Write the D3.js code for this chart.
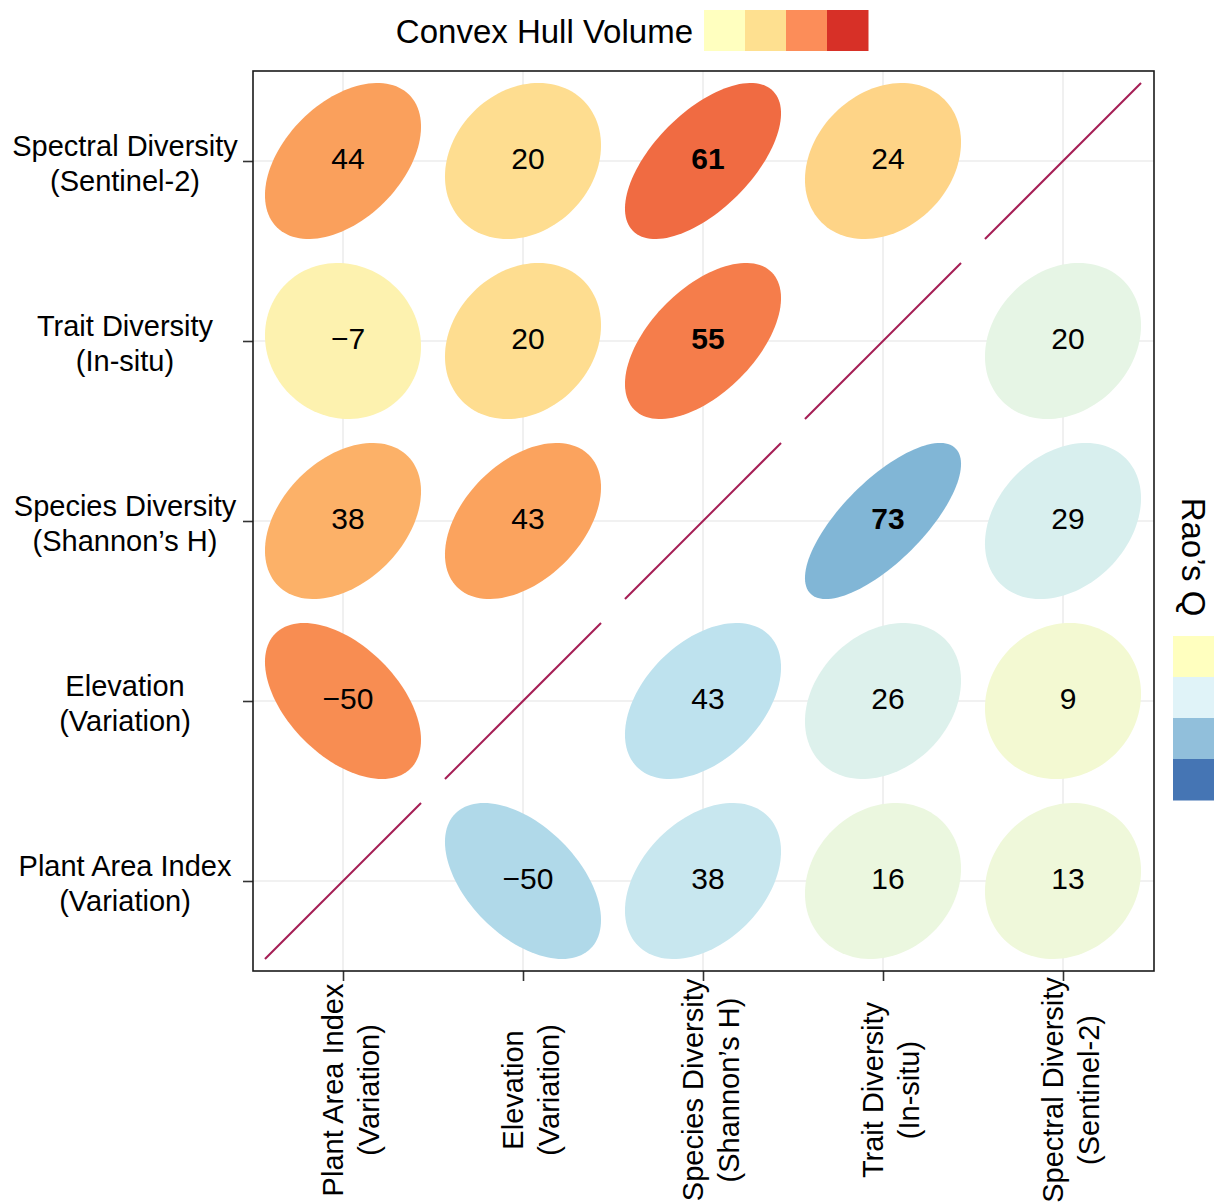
<!DOCTYPE html>
<html>
<head>
<meta charset="utf-8">
<script src="https://cdn.jsdelivr.net/npm/d3@7"></script>
<style>
  html, body { margin: 0; padding: 0; background: #ffffff; }
  text { font-family: "Liberation Sans", Arial, Helvetica, sans-serif; }
</style>
</head>
<body>
<svg id="chart" width="1225" height="1202"></svg>
<script>
// Variables, columns left to right
const colLabels = [
  ["Plant Area Index", "(Variation)"],
  ["Elevation", "(Variation)"],
  ["Species Diversity", "(Shannon\u2019s H)"],
  ["Trait Diversity", "(In-situ)"],
  ["Spectral Diversity", "(Sentinel-2)"]
];
// Rows top to bottom (reverse of columns)
const rowLabels = [
  ["Spectral Diversity", "(Sentinel-2)"],
  ["Trait Diversity", "(In-situ)"],
  ["Species Diversity", "(Shannon\u2019s H)"],
  ["Elevation", "(Variation)"],
  ["Plant Area Index", "(Variation)"]
];

// Correlations (x100) based on convex hull volume: upper-left triangle
const hullValues = [
  [44, 20, 61, 24, null],
  [-7, 20, 55, null, null],
  [38, 43, null, null, null],
  [-50, null, null, null, null],
  [null, null, null, null, null]
];
// Correlations (x100) based on Rao's Q: lower-right triangle
const raoValues = [
  [null, null, null, null, null],
  [null, null, null, null, 20],
  [null, null, null, 73, 29],
  [null, null, 43, 26, 9],
  [null, -50, 38, 16, 13]
];
// Significant correlations shown in bold, [row, col]
const hullSignificant = [[0, 2], [1, 2]];
const raoSignificant = [[2, 3]];

// Legend swatches
const hullLegendColors = ["#FFFFBF", "#FEE090", "#FC8D59", "#D73027"];
const raoLegendColors = ["#FFFFBF", "#E0F3F8", "#91BFDB", "#4575B4"];

const svg = d3.select("#chart");
const plot = { left: 253, top: 71, size: 900 };

const colKeys = d3.range(colLabels.length);
const rowKeys = d3.range(rowLabels.length);

const x = d3.scalePoint().domain(colKeys).range([plot.left, plot.left + plot.size]).padding(0.5);
const y = d3.scalePoint().domain(rowKeys).range([plot.top, plot.top + plot.size]).padding(0.5);

// ellipse unit coordinates -> pixels
const ellUnit = x.step() * 0.867;
const ex = d3.scaleLinear().domain([-0.5, 0.5]).range([-ellUnit / 2, ellUnit / 2]);
const ey = d3.scaleLinear().domain([-0.5, 0.5]).range([ellUnit / 2, -ellUnit / 2]);

// colour scales on |r|
const warmT = d3.scaleLinear().domain([0, 1]).range([0.5, 0.0]);
const coolT = d3.scaleLinear().domain([0, 1]).range([0.5, 0.88]);
const warmColor = v => d3.interpolateRdYlBu(warmT(Math.abs(v) / 100));
const coolColor = v => d3.interpolateRdYlBu(coolT(Math.abs(v) / 100));

function ellipsePoints(r) {
  const a = Math.acos(Math.max(-1, Math.min(1, r))) / 2;
  return d3.range(0, 120).map(i => {
    const t = 2 * Math.PI * i / 120;
    return [ex(Math.cos(t + a) / 2), ey(Math.cos(t - a) / 2)];
  });
}
const closedLine = d3.line().curve(d3.curveLinearClosed);

// gridlines
const grid = svg.append("g");
grid.selectAll("line.v").data(colKeys).join("line")
  .attr("x1", d => x(d)).attr("x2", d => x(d))
  .attr("y1", plot.top).attr("y2", plot.top + plot.size)
  .attr("stroke", "#EDEDED").attr("stroke-width", 1.6);
grid.selectAll("line.h").data(rowKeys).join("line")
  .attr("y1", d => y(d)).attr("y2", d => y(d))
  .attr("x1", plot.left).attr("x2", plot.left + plot.size + 1)
  .attr("stroke", "#EDEDED").attr("stroke-width", 1.6);

// build cells
const cells = [];
rowKeys.forEach(i => colKeys.forEach(j => {
  if (hullValues[i][j] != null) {
    cells.push({ i, j, v: hullValues[i][j], color: warmColor(hullValues[i][j]),
      bold: hullSignificant.some(p => p[0] === i && p[1] === j) });
  }
  if (raoValues[i][j] != null) {
    cells.push({ i, j, v: raoValues[i][j], color: coolColor(raoValues[i][j]),
      bold: raoSignificant.some(p => p[0] === i && p[1] === j) });
  }
}));

const cellG = svg.append("g").selectAll("g").data(cells).join("g")
  .attr("transform", d => `translate(${x(d.j)},${y(d.i)})`);
cellG.append("path")
  .attr("d", d => closedLine(ellipsePoints(d.v / 100)))
  .attr("fill", d => d.color);
cellG.append("text")
  .attr("x", 5).attr("y", 8)
  .attr("text-anchor", "middle")
  .attr("font-size", 30)
  .attr("font-weight", d => d.bold ? "bold" : "normal")
  .attr("fill", "#000")
  .text(d => d.v < 0 ? "\u2212" + Math.abs(d.v) : String(d.v));

// diagonal: perfect correlation drawn as a line
const diag = rowKeys.map(i => ({ i, j: colKeys.length - 1 - i }));
svg.append("g").selectAll("path").data(diag).join("path")
  .attr("transform", d => `translate(${x(d.j)},${y(d.i)})`)
  .attr("d", () => d3.line()([[ex(-0.5), ey(-0.5)], [ex(0.5), ey(0.5)]]))
  .attr("stroke", "#A51E55").attr("stroke-width", 2).attr("fill", "none");

// axes ticks
const axL = svg.append("g").attr("transform", `translate(${plot.left},0)`)
  .call(d3.axisLeft(y).tickSize(10).tickFormat(""));
const axB = svg.append("g").attr("transform", `translate(0,${plot.top + plot.size})`)
  .call(d3.axisBottom(x).tickSize(10).tickFormat(""));
[axL, axB].forEach(a => {
  a.select(".domain").remove();
  a.selectAll(".tick line").attr("stroke", "#333").attr("stroke-width", 1.6);
});

// frame
svg.append("rect")
  .attr("x", plot.left).attr("y", plot.top)
  .attr("width", plot.size + 1).attr("height", plot.size)
  .attr("fill", "none").attr("stroke", "#1a1a1a").attr("stroke-width", 1.6);

// row labels
svg.append("g").selectAll("text").data(rowKeys).join("text")
  .attr("text-anchor", "middle").attr("font-size", 29).attr("fill", "#000")
  .each(function (i) {
    const t = d3.select(this);
    rowLabels[i].forEach((line, k) => {
      t.append("tspan").attr("x", 125).attr("y", y(i) - 5 + k * 35).text(line);
    });
  });

// column labels, rotated
svg.append("g").selectAll("text").data(colKeys).join("text")
  .attr("transform", j => `translate(${x(j)},1090) rotate(-90)`)
  .attr("text-anchor", "middle").attr("font-size", 29).attr("fill", "#000")
  .each(function (j) {
    const t = d3.select(this);
    colLabels[j].forEach((line, k) => {
      t.append("tspan").attr("x", 0).attr("y", k * 36).text(line);
    });
  });

// top legend: convex hull volume
svg.append("text")
  .attr("x", 693).attr("y", 43)
  .attr("text-anchor", "end").attr("font-size", 33).attr("fill", "#000")
  .text("Convex Hull Volume");
const lx = d3.scaleBand().domain(d3.range(hullLegendColors.length)).range([704, 868]);
svg.append("g").selectAll("rect").data(hullLegendColors).join("rect")
  .attr("x", (d, k) => lx(k)).attr("y", 10)
  .attr("width", lx.bandwidth() + 0.5).attr("height", 41)
  .attr("fill", d => d);

// right legend: Rao's Q
svg.append("text")
  .attr("transform", "translate(1182,557) rotate(90)")
  .attr("text-anchor", "middle").attr("font-size", 33).attr("fill", "#000")
  .text("Rao\u2019s Q");
const ly = d3.scaleBand().domain(d3.range(raoLegendColors.length)).range([636, 800]);
svg.append("g").selectAll("rect").data(raoLegendColors).join("rect")
  .attr("x", 1173).attr("y", (d, k) => ly(k))
  .attr("width", 41).attr("height", ly.bandwidth() + 0.5)
  .attr("fill", d => d);
</script>
</body>
</html>
